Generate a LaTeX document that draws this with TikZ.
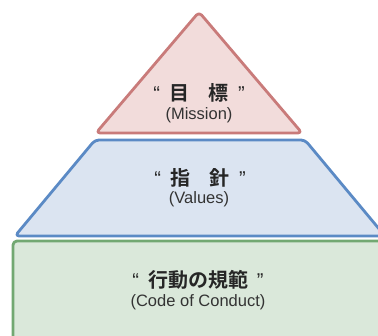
\documentclass[tikz,border=0pt]{standalone}
\usepackage{fontspec}
\setmainfont{Liberation Sans}
\newfontfamily\jp{Noto Sans CJK JP}[BoldFont={* Bold}]
\definecolor{pinkfill}{HTML}{F2DCDB}
\definecolor{pinkline}{HTML}{C97B7A}
\definecolor{bluefill}{HTML}{DBE4F1}
\definecolor{blueline}{HTML}{5B8AC5}
\definecolor{greenfill}{HTML}{DAE8DA}
\definecolor{greenline}{HTML}{72A872}
\begin{document}
\begin{tikzpicture}[x=1pt,y=-1pt,
  tier/.style={line width=2.8pt,rounded corners=4pt,line join=round},
  title/.style={font=\jp\bfseries\fontsize{20}{24}\selectfont,text=black!85,inner sep=0pt},
  sub/.style={font=\fontsize{16.5}{20}\selectfont,text=black!80,inner sep=0pt}]
\useasboundingbox (0,0) rectangle (378,336);
\clip (0,0) rectangle (378,336);
% bottom tier
\path[tier,draw=greenline,fill=greenfill] (13,360) -- (13,241) -- (400,241) -- (400,360) -- cycle;
% middle tier
\path[tier,draw=blueline,fill=bluefill] (15,236) -- (95,140) -- (305,140) -- (385,236) -- cycle;
% top tier
\path[tier,draw=pinkline,fill=pinkfill] (96,133) -- (199,12) -- (302,133) -- cycle;
% texts
\node[title] (t1) at (199,93) {{\rmfamily\mdseries“}\hspace{0.45em}目\hspace{1em}標\hspace{0.45em}{\rmfamily\mdseries”}};
\node[sub] (s1) at (199,115) {(Mission)};
\node[title] (t2) at (200,178) {{\rmfamily\mdseries“}\hspace{0.45em}指\hspace{1em}針\hspace{0.45em}{\rmfamily\mdseries”}};
\node[sub] (s2) at (199,199) {(Values)};
\node[title] (t3) at (198,280) {{\rmfamily\mdseries“}\hspace{0.45em}行動の規範\hspace{0.45em}{\rmfamily\mdseries”}};
\node[sub] (s3) at (198,302) {(Code of Conduct)};
\end{tikzpicture}
\end{document}
